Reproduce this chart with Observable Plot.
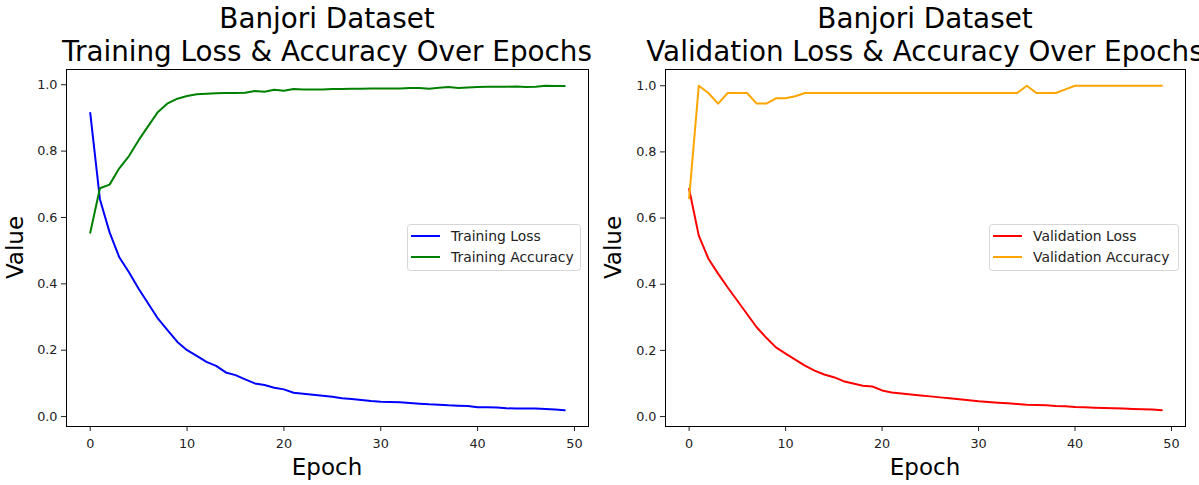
<!DOCTYPE html>
<html>
<head>
<meta charset="utf-8">
<script src="https://cdn.jsdelivr.net/npm/d3@7"></script>
<script src="https://cdn.jsdelivr.net/npm/@observablehq/plot@0.6"></script>
<style>
  html, body { margin: 0; padding: 0; background: #fff; }
  #fig { position: relative; width: 1199px; height: 485px; overflow: hidden; background: #fff; font-family: "DejaVu Sans", sans-serif; }
  #left, #right { position: absolute; top: 0; }
  #left { left: 0; }
  #right { left: 600px; }
  #overlay { position: absolute; left: 0; top: 0; pointer-events: none; }
</style>
</head>
<body>
<div id="fig">
  <div id="left"></div>
  <div id="right"></div>
</div>
<script>
// ---- data ----
const datasetName = "Banjori Dataset";
const leftTitle = "Training Loss & Accuracy Over Epochs";
const rightTitle = "Validation Loss & Accuracy Over Epochs";
const xLabel = "Epoch";
const yLabel = "Value";
const xTicks = [0, 10, 20, 30, 40, 50];
const yTicks = [0, 0.2, 0.4, 0.6, 0.8, 1.0];

const trainingLoss = [0.915,0.655,0.555,0.48,0.435,0.385,0.34,0.295,0.26,0.225,
  0.2,0.183,0.165,0.153,0.133,0.125,0.112,0.1,0.095,0.087,
  0.082,0.072,0.069,0.066,0.063,0.06,0.055,0.053,0.05,0.047,
  0.045,0.044,0.043,0.041,0.039,0.037,0.036,0.034,0.033,0.032,
  0.028,0.028,0.027,0.025,0.024,0.024,0.024,0.023,0.021,0.019];
const trainingAccuracy = [0.554,0.688,0.699,0.748,0.785,0.833,0.876,0.918,0.944,0.958,
  0.966,0.971,0.973,0.974,0.975,0.975,0.976,0.981,0.979,0.985,
  0.982,0.987,0.986,0.986,0.986,0.987,0.987,0.988,0.988,0.989,
  0.989,0.989,0.989,0.99,0.99,0.988,0.991,0.993,0.99,0.992,
  0.993,0.994,0.994,0.994,0.995,0.993,0.994,0.997,0.996,0.996];
const validationLoss = [0.688,0.547,0.477,0.432,0.39,0.35,0.31,0.27,0.238,0.209,
  0.19,0.172,0.154,0.139,0.127,0.119,0.107,0.1,0.093,0.091,
  0.079,0.073,0.07,0.067,0.064,0.061,0.058,0.055,0.052,0.049,
  0.046,0.044,0.042,0.04,0.038,0.036,0.035,0.034,0.032,0.031,
  0.029,0.028,0.027,0.026,0.025,0.024,0.023,0.022,0.021,0.019];
const validationAccuracy = [0.66,1.0,0.978,0.946,0.978,0.978,0.978,0.946,0.946,0.962,
  0.962,0.968,0.978,0.978,0.978,0.978,0.978,0.978,0.978,0.978,
  0.978,0.978,0.978,0.978,0.978,0.978,0.978,0.978,0.978,0.978,
  0.978,0.978,0.978,0.978,0.978,1.0,0.978,0.978,0.978,0.989,
  1.0,1.0,1.0,1.0,1.0,1.0,1.0,1.0,1.0,1.0];

const leftSeries = [
  {name: "Training Loss", values: trainingLoss, color: "blue"},
  {name: "Training Accuracy", values: trainingAccuracy, color: "green"}
];
const rightSeries = [
  {name: "Validation Loss", values: validationLoss, color: "red"},
  {name: "Validation Accuracy", values: validationAccuracy, color: "orange"}
];

function padDomain(series) {
  const all = series.flatMap(s => s.values);
  const lo = d3.min(all), hi = d3.max(all);
  const m = (hi - lo) * 0.05;
  return [lo - m, hi + m];
}
function xDomain(series) {
  const n = series[0].values.length - 1;
  return [-n * 0.05, n * 1.05];
}

function makeChart(series, width, marginLeft, marginRight) {
  return Plot.plot({
    width, height: 485,
    marginLeft, marginRight, marginTop: 69, marginBottom: 59,
    style: {fontFamily: "DejaVu Sans, sans-serif", fontSize: "12.8px", color: "#222", background: "transparent", overflow: "visible"},
    x: {domain: xDomain(series), ticks: xTicks, tickFormat: d3.format("d"), tickSize: 5, tickPadding: 7, label: null},
    y: {domain: padDomain(series), ticks: yTicks, tickFormat: d3.format(".1f"), tickSize: 5, tickPadding: 4, label: null},
    marks: [
      ...series.map(s => Plot.lineY(s.values, {x: (d, i) => i, y: d => d, stroke: s.color, strokeWidth: 2})),
      Plot.frame({stroke: "#000", strokeWidth: 1})
    ]
  });
}

document.getElementById("left").append(makeChart(leftSeries, 600, 66, 12));
document.getElementById("right").append(makeChart(rightSeries, 599, 65, 14));

// ---- overlay text: titles, axis labels, legends ----
const svg = d3.select("#fig").append("svg")
  .attr("id", "overlay").attr("width", 1199).attr("height", 485)
  .style("font-family", "DejaVu Sans, sans-serif");

const panels = [
  {cx: 327, labelX: 23, title: leftTitle, series: leftSeries, legendX: 407, legendW: 173},
  {cx: 925, labelX: 621, title: rightTitle, series: rightSeries, legendX: 989, legendW: 189}
];
for (const p of panels) {
  const t = svg.append("text").attr("text-anchor", "middle").attr("font-size", 27.8).attr("fill", "#000");
  t.append("tspan").attr("x", p.cx).attr("y", 28).text(datasetName);
  t.append("tspan").attr("x", p.cx).attr("y", 61).text(p.title);
  svg.append("text").attr("x", p.cx).attr("y", 475).attr("text-anchor", "middle")
    .attr("font-size", 23).attr("fill", "#000").text(xLabel);
  svg.append("text").attr("transform", `translate(${p.labelX},247.5) rotate(-90)`)
    .attr("text-anchor", "middle").attr("font-size", 23).attr("fill", "#000").text(yLabel);
  const g = svg.append("g");
  g.append("rect").attr("x", p.legendX + 0.5).attr("y", 224.5).attr("width", p.legendW).attr("height", 46)
    .attr("rx", 3).attr("fill", "rgba(255,255,255,0.8)").attr("stroke", "#d6d6d6");
  p.series.forEach((s, i) => {
    const y = 236 + i * 21;
    g.append("line").attr("x1", p.legendX + 4).attr("x2", p.legendX + 33).attr("y1", y).attr("y2", y)
      .attr("stroke", s.color).attr("stroke-width", 2);
    g.append("text").attr("x", p.legendX + 44).attr("y", y + 4.8).attr("font-size", 13.9).attr("fill", "#222").text(s.name);
  });
}
</script>
</body>
</html>
